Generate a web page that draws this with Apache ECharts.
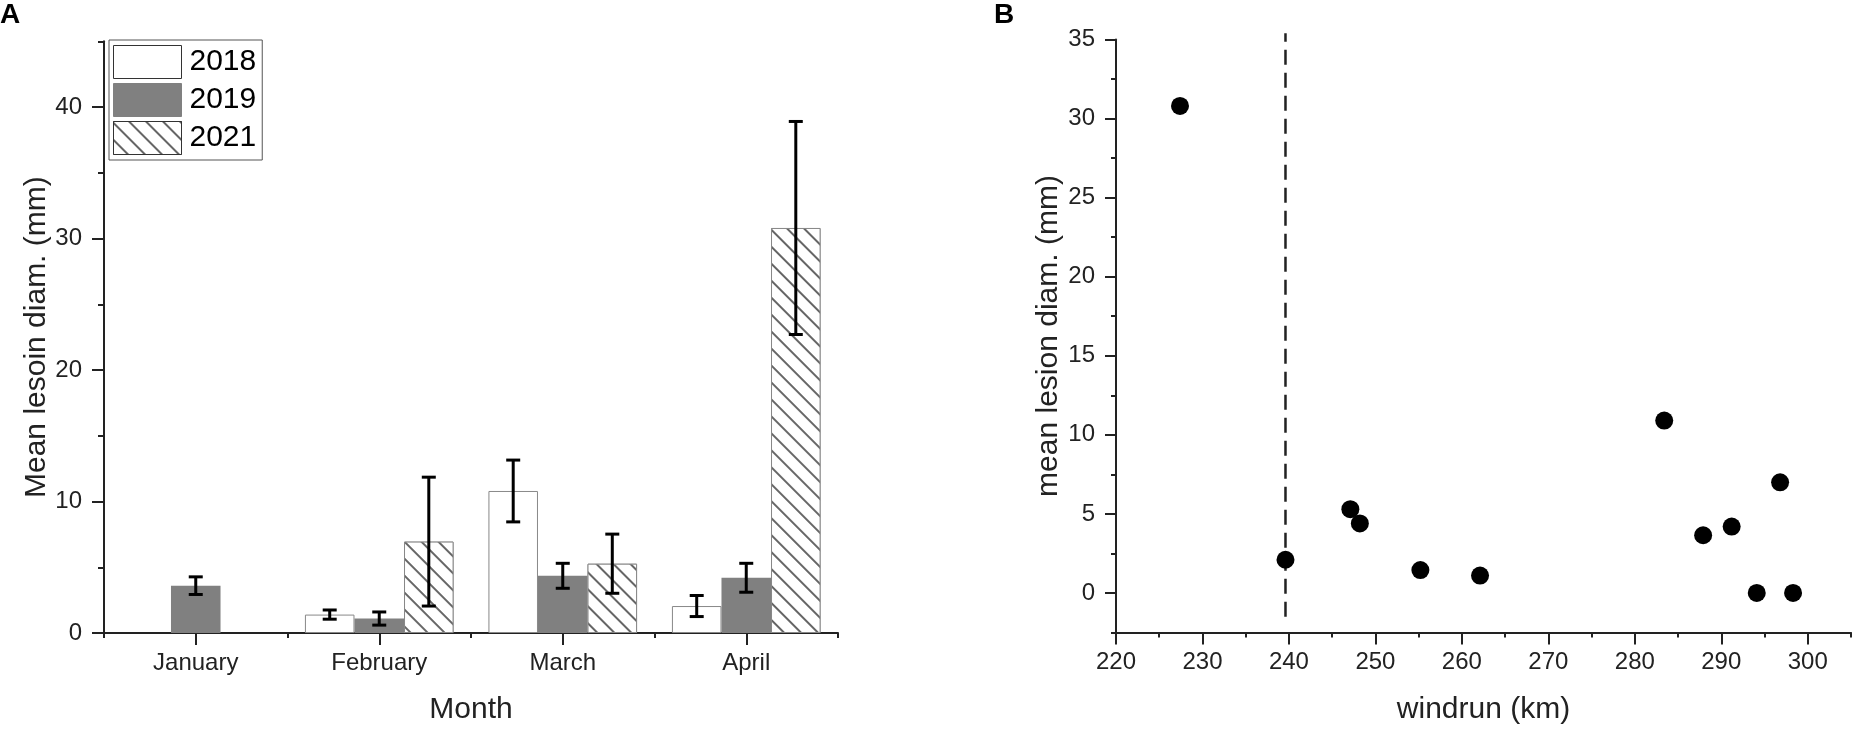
<!DOCTYPE html>
<html>
<head>
<meta charset="utf-8">
<title>Lesion diameter by month and windrun</title>
<script src="https://cdn.jsdelivr.net/npm/echarts@6/dist/echarts.min.js"></script>
<style>
  html, body { margin: 0; padding: 0; background: #fff; }
  #chart { width: 1859px; height: 730px; }
</style>
</head>
<body>
<div id="chart"></div>
<script>
// panel A: mean lesion diameter per month and year (mean, +/- error)
const months = ['January', 'February', 'March', 'April'];
const years = ['2018', '2019', '2021'];
const mean2018 = [null, 1.4, 10.8, 2.05];
const err2018 = [null, 0.35, 2.35, 0.8];
const mean2019 = [3.6, 1.1, 4.35, 4.2];
const err2019 = [0.67, 0.5, 0.95, 1.1];
const mean2021 = [null, 6.95, 5.27, 30.8];
const err2021 = [null, 4.9, 2.25, 8.1];
const yMajorA = [0, 10, 20, 30, 40];
const yMinorA = [5, 15, 25, 35, 45];

// panel B: windrun vs mean lesion diameter
const windrun = [227.4, 239.6, 247.1, 248.2, 255.2, 262.1, 283.4, 287.9, 291.2, 294.1, 296.8, 298.3];
const lesion = [30.8, 2.1, 5.3, 4.4, 1.45, 1.1, 10.9, 3.65, 4.2, 0, 7.0, 0];
const thresholdX = 239.6;
const thresholdY = [-1.5, 35.4];
const xMajorB = [220, 230, 240, 250, 260, 270, 280, 290, 300];
const xMinorB = [225, 235, 245, 255, 265, 275, 285, 295, 305];
const yMajorB = [0, 5, 10, 15, 20, 25, 30, 35];
const yMinorB = [-2.5, 2.5, 7.5, 12.5, 17.5, 22.5, 27.5, 32.5];

const FONT = 'Liberation Sans';
const INK = '#222';
const barPct = 0.27;

let myChart = echarts.init(document.getElementById('chart'), null, {renderer: 'canvas'});

// 误差线 (error bars) drawn over the bars, shifted by bar slot
function errorBars(slot) {
  return function (params, api) {
    let cat = api.value(0);
    let hi = api.coord([cat, api.value(1) + api.value(2)]);
    let lo = api.coord([cat, api.value(1) - api.value(2)]);
    let x = hi[0] + api.size([1, 0])[0] * barPct * slot;
    let cap = 7;
    let st = {stroke: '#000', lineWidth: 3};
    return {
      type: 'group',
      children: [
        {type: 'line', shape: {x1: x, y1: hi[1], x2: x, y2: lo[1]}, style: st},
        {type: 'line', shape: {x1: x - cap, y1: hi[1], x2: x + cap, y2: hi[1]}, style: st},
        {type: 'line', shape: {x1: x - cap, y1: lo[1], x2: x + cap, y2: lo[1]}, style: st}
      ]
    };
  };
}

function errData(mean, err) {
  return months.map((m, i) => mean[i] == null ? null : [i, mean[i], err[i]]).filter(Boolean);
}

const axisLine = {show: true, lineStyle: {color: INK, width: 2}};
const tickLine = {color: INK, width: 2};
const labelStyle = {color: INK, fontSize: 24, fontFamily: FONT};
const nameStyle = {color: INK, fontSize: 30, fontFamily: FONT};

let option = {
  animation: false,
  backgroundColor: '#fff',
  title: [
    {text: 'A', left: 0, top: 1, padding: 0, textStyle: {fontSize: 28, fontWeight: 'bold', color: '#000', fontFamily: FONT}},
    {text: 'B', left: 994, top: 1, padding: 0, textStyle: {fontSize: 28, fontWeight: 'bold', color: '#000', fontFamily: FONT}}
  ],
  legend: {
    data: [
      {name: years[0], itemStyle: {borderColor: '#333', borderWidth: 1}},
      {name: years[1], itemStyle: {borderColor: '#808080', borderWidth: 1}},
      {name: years[2], itemStyle: {borderColor: '#333', borderWidth: 1}}
    ],
    orient: 'vertical',
    left: 109,
    top: 40,
    padding: [5, 6, 5, 4],
    itemGap: 4,
    itemWidth: 68,
    itemHeight: 33,
    icon: 'rect',
    borderColor: '#555',
    borderWidth: 1,
    textStyle: {color: '#000', fontSize: 30, fontFamily: FONT, padding: [0, 0, 0, 3]}
  },
  grid: [
    {left: 104, top: 41.25, width: 734, height: 591.75},
    {left: 1116, top: 39.5, width: 735, height: 593}
  ],
  xAxis: [
    {
      gridIndex: 0, type: 'category', data: months, position: 'bottom',
      name: 'Month', nameLocation: 'middle', nameGap: 62, nameTextStyle: nameStyle,
      axisLine: axisLine,
      axisTick: {show: true, alignWithLabel: true, length: 12, lineStyle: tickLine},
      axisLabel: Object.assign({margin: 18}, labelStyle),
      splitLine: {show: false}
    },
    {
      gridIndex: 0, type: 'category', data: months, position: 'bottom',
      axisLine: {show: false},
      axisTick: {show: true, length: 5, lineStyle: tickLine},
      axisLabel: {show: false},
      splitLine: {show: false}
    },
    {
      gridIndex: 1, type: 'value', min: 220, max: 305, position: 'bottom',
      name: 'windrun (km)', nameLocation: 'middle', nameGap: 62, nameTextStyle: nameStyle,
      axisLine: Object.assign({onZero: false}, axisLine),
      axisTick: {show: true, length: 12, lineStyle: tickLine, customValues: xMajorB},
      axisLabel: Object.assign({margin: 18, customValues: xMajorB}, labelStyle),
      splitLine: {show: false}
    },
    {
      gridIndex: 1, type: 'value', min: 220, max: 305, position: 'bottom',
      axisLine: {show: false, onZero: false},
      axisTick: {show: true, length: 5, lineStyle: tickLine, customValues: xMinorB},
      axisLabel: {show: false},
      splitLine: {show: false}
    }
  ],
  yAxis: [
    {
      gridIndex: 0, type: 'value', min: 0, max: 45, position: 'left',
      name: 'Mean lesoin diam. (mm)', nameLocation: 'middle', nameGap: 52, nameTextStyle: nameStyle,
      axisLine: axisLine,
      axisTick: {show: true, length: 12, lineStyle: tickLine, customValues: yMajorA},
      axisLabel: Object.assign({margin: 22, customValues: yMajorA}, labelStyle),
      splitLine: {show: false}
    },
    {
      gridIndex: 0, type: 'value', min: 0, max: 45, position: 'left',
      axisLine: {show: false},
      axisTick: {show: true, length: 6, lineStyle: tickLine, customValues: yMinorA},
      axisLabel: {show: false},
      splitLine: {show: false}
    },
    {
      gridIndex: 1, type: 'value', min: -2.5, max: 35, position: 'left',
      name: 'mean lesion diam. (mm)', nameLocation: 'middle', nameGap: 52, nameTextStyle: nameStyle,
      axisLine: Object.assign({onZero: false}, axisLine),
      axisTick: {show: true, length: 11, lineStyle: tickLine, customValues: yMajorB},
      axisLabel: Object.assign({margin: 21, customValues: yMajorB}, labelStyle),
      splitLine: {show: false}
    },
    {
      gridIndex: 1, type: 'value', min: -2.5, max: 35, position: 'left',
      axisLine: {show: false, onZero: false},
      axisTick: {show: true, length: 5, lineStyle: tickLine, customValues: yMinorB},
      axisLabel: {show: false},
      splitLine: {show: false}
    }
  ],
  series: [
    {
      name: '2018', type: 'bar', xAxisIndex: 0, yAxisIndex: 0, data: mean2018,
      barWidth: (barPct * 100) + '%', barGap: '0%',
      itemStyle: {color: '#fff', borderColor: '#888', borderWidth: 1}
    },
    {
      name: '2019', type: 'bar', xAxisIndex: 0, yAxisIndex: 0, data: mean2019,
      barWidth: (barPct * 100) + '%', barGap: '0%',
      itemStyle: {color: '#808080', borderColor: '#808080', borderWidth: 0}
    },
    {
      name: '2021', type: 'bar', xAxisIndex: 0, yAxisIndex: 0, data: mean2021,
      barWidth: (barPct * 100) + '%', barGap: '0%',
      itemStyle: {
        color: '#fff', borderColor: '#888', borderWidth: 1,
        decal: {
          symbol: 'rect', symbolSize: 1,
          dashArrayX: [1, 0], dashArrayY: [1.3, 10],
          rotation: Math.PI / 4,
          color: '#666', backgroundColor: '#fff'
        }
      }
    },
    {type: 'custom', name: 'err2018', xAxisIndex: 0, yAxisIndex: 0, z: 5, renderItem: errorBars(-1), data: errData(mean2018, err2018)},
    {type: 'custom', name: 'err2019', xAxisIndex: 0, yAxisIndex: 0, z: 5, renderItem: errorBars(0), data: errData(mean2019, err2019)},
    {type: 'custom', name: 'err2021', xAxisIndex: 0, yAxisIndex: 0, z: 5, renderItem: errorBars(1), data: errData(mean2021, err2021)},
    {
      name: 'threshold', type: 'line', xAxisIndex: 2, yAxisIndex: 2, clip: false,
      symbol: 'none', silent: true,
      data: thresholdY.map(y => [thresholdX, y]),
      lineStyle: {color: INK, width: 2.5, type: [15, 8]}
    },
    {
      name: 'windrun', type: 'scatter', xAxisIndex: 2, yAxisIndex: 2, z: 4,
      symbol: 'circle', symbolSize: 18,
      data: windrun.map((x, i) => [x, lesion[i]]),
      itemStyle: {color: '#000', opacity: 1}
    }
  ]
};

myChart.setOption(option);
</script>
</body>
</html>
